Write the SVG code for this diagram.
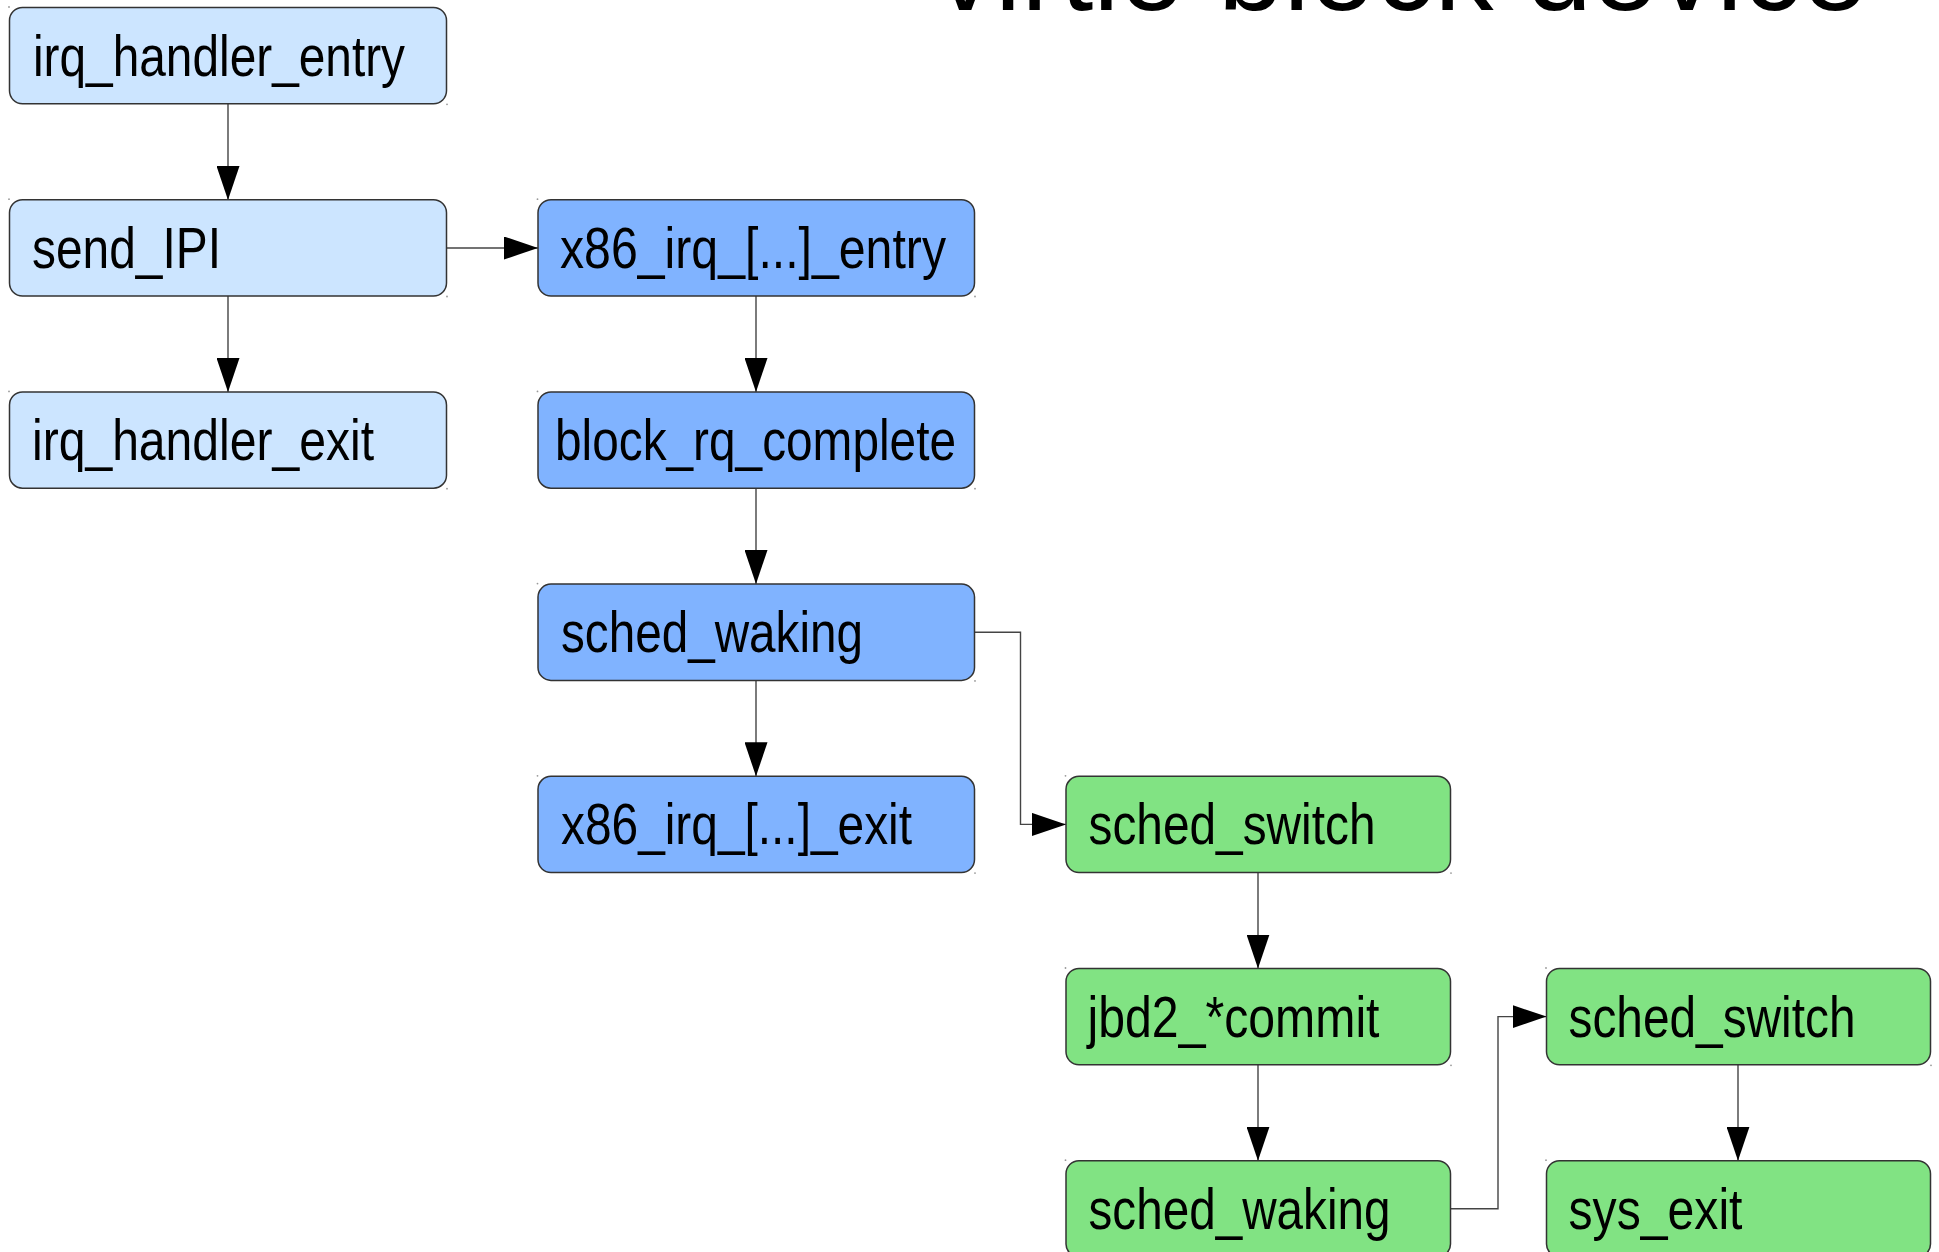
<svg xmlns="http://www.w3.org/2000/svg" width="1939" height="1252" viewBox="0 0 1939 1252">
<style>
  .box { stroke: #333333; stroke-width: 1.5; }
  .c1 { fill: #cce5ff; }
  .c2 { fill: #80b3ff; }
  .c3 { fill: #81e383; }
  .lbl { font-family: "Liberation Sans Narrow", "Liberation Sans", Arial, sans-serif; font-size: 58px; fill: #000000; }
  .title { font-family: "Liberation Sans", Arial, sans-serif; font-size: 118px; fill: #000000; }
  .conn { fill: none; stroke: #444444; stroke-width: 1.4; }
  .dot { fill: #999999; }
</style>
<defs>
  <marker id="arr" markerUnits="userSpaceOnUse" markerWidth="34" markerHeight="23" refX="34" refY="11.5" orient="auto">
    <path d="M0,0 L34,11.5 L0,23 Z" fill="#000000"/>
  </marker>
</defs>
<rect width="1939" height="1252" fill="#ffffff"/>
<text class="title" x="936" y="9.5">virtio block device</text>

<g id="connectors">
  <path class="conn" d="M228,104 V200" marker-end="url(#arr)"/>
  <path class="conn" d="M228,296 V392" marker-end="url(#arr)"/>
  <path class="conn" d="M446.5,248 H538" marker-end="url(#arr)"/>
  <path class="conn" d="M756,296 V392" marker-end="url(#arr)"/>
  <path class="conn" d="M756,488 V584" marker-end="url(#arr)"/>
  <path class="conn" d="M756,680.5 V776.3" marker-end="url(#arr)"/>
  <path class="conn" d="M974.5,632.2 H1020.5 V824.4 H1066" marker-end="url(#arr)"/>
  <path class="conn" d="M1258,872.6 V968.5" marker-end="url(#arr)"/>
  <path class="conn" d="M1258,1064.8 V1160.7" marker-end="url(#arr)"/>
  <path class="conn" d="M1450.5,1208.8 H1498 V1016.6 H1546.5" marker-end="url(#arr)"/>
  <path class="conn" d="M1738,1064.8 V1160.7" marker-end="url(#arr)"/>
</g>

<g id="n_irq_handler_entry">
  <rect class="box c1" x="9.5" y="7.5" width="437" height="96.3" rx="13"/>
  <text class="lbl" x="33" y="75.6" textLength="372" lengthAdjust="spacingAndGlyphs">irq_handler_entry</text>
</g>
<g id="n_send_IPI">
  <rect class="box c1" x="9.5" y="199.7" width="437" height="96.3" rx="13"/>
  <text class="lbl" x="32" y="267.8" textLength="189" lengthAdjust="spacingAndGlyphs">send_IPI</text>
</g>
<g id="n_irq_handler_exit">
  <rect class="box c1" x="9.5" y="391.9" width="437" height="96.3" rx="13"/>
  <text class="lbl" x="32" y="460" textLength="342" lengthAdjust="spacingAndGlyphs">irq_handler_exit</text>
</g>
<g id="n_x86_entry">
  <rect class="box c2" x="538" y="199.7" width="436.5" height="96.3" rx="13"/>
  <text class="lbl" x="560" y="267.8" textLength="386" lengthAdjust="spacingAndGlyphs">x86_irq_[...]_entry</text>
</g>
<g id="n_block_rq_complete">
  <rect class="box c2" x="538" y="391.9" width="436.5" height="96.3" rx="13"/>
  <text class="lbl" x="555" y="460" textLength="401" lengthAdjust="spacingAndGlyphs">block_rq_complete</text>
</g>
<g id="n_sched_waking_1">
  <rect class="box c2" x="538" y="584.1" width="436.5" height="96.3" rx="13"/>
  <text class="lbl" x="561" y="652.2" textLength="302" lengthAdjust="spacingAndGlyphs">sched_waking</text>
</g>
<g id="n_x86_exit">
  <rect class="box c2" x="538" y="776.3" width="436.5" height="96.3" rx="13"/>
  <text class="lbl" x="561" y="844.4" textLength="351" lengthAdjust="spacingAndGlyphs">x86_irq_[...]_exit</text>
</g>
<g id="n_sched_switch_1">
  <rect class="box c3" x="1066" y="776.3" width="384.5" height="96.3" rx="13"/>
  <text class="lbl" x="1088.5" y="844.4" textLength="287" lengthAdjust="spacingAndGlyphs">sched_switch</text>
</g>
<g id="n_jbd2_commit">
  <rect class="box c3" x="1066" y="968.5" width="384.5" height="96.3" rx="13"/>
  <text class="lbl" x="1087.5" y="1036.6" textLength="292" lengthAdjust="spacingAndGlyphs">jbd2_*commit</text>
</g>
<g id="n_sched_waking_2">
  <rect class="box c3" x="1066" y="1160.7" width="384.5" height="96.3" rx="13"/>
  <text class="lbl" x="1088.5" y="1228.8" textLength="302" lengthAdjust="spacingAndGlyphs">sched_waking</text>
</g>
<g id="n_sched_switch_2">
  <rect class="box c3" x="1546.5" y="968.5" width="384" height="96.3" rx="13"/>
  <text class="lbl" x="1568.5" y="1036.6" textLength="287" lengthAdjust="spacingAndGlyphs">sched_switch</text>
</g>
<g id="n_sys_exit">
  <rect class="box c3" x="1546.5" y="1160.7" width="384" height="96.3" rx="13"/>
  <text class="lbl" x="1568.5" y="1228.8" textLength="174" lengthAdjust="spacingAndGlyphs">sys_exit</text>
</g>

<g id="corner_dots">
  <circle class="dot" cx="9" cy="7" r="0.9"/><circle class="dot" cx="447" cy="104.3" r="0.9"/>
  <circle class="dot" cx="9" cy="199.2" r="0.9"/><circle class="dot" cx="447" cy="296.5" r="0.9"/>
  <circle class="dot" cx="9" cy="391.4" r="0.9"/><circle class="dot" cx="447" cy="488.7" r="0.9"/>
  <circle class="dot" cx="537.5" cy="199.2" r="0.9"/><circle class="dot" cx="975" cy="296.5" r="0.9"/>
  <circle class="dot" cx="537.5" cy="391.4" r="0.9"/><circle class="dot" cx="975" cy="488.7" r="0.9"/>
  <circle class="dot" cx="537.5" cy="583.6" r="0.9"/><circle class="dot" cx="975" cy="680.9" r="0.9"/>
  <circle class="dot" cx="537.5" cy="775.8" r="0.9"/><circle class="dot" cx="975" cy="873.1" r="0.9"/>
  <circle class="dot" cx="1065.5" cy="775.8" r="0.9"/><circle class="dot" cx="1451" cy="873.1" r="0.9"/>
  <circle class="dot" cx="1065.5" cy="968" r="0.9"/><circle class="dot" cx="1451" cy="1065.3" r="0.9"/>
  <circle class="dot" cx="1065.5" cy="1160.2" r="0.9"/>
  <circle class="dot" cx="1546" cy="968" r="0.9"/><circle class="dot" cx="1931" cy="1065.3" r="0.9"/>
  <circle class="dot" cx="1546" cy="1160.2" r="0.9"/>
</g>
</svg>
